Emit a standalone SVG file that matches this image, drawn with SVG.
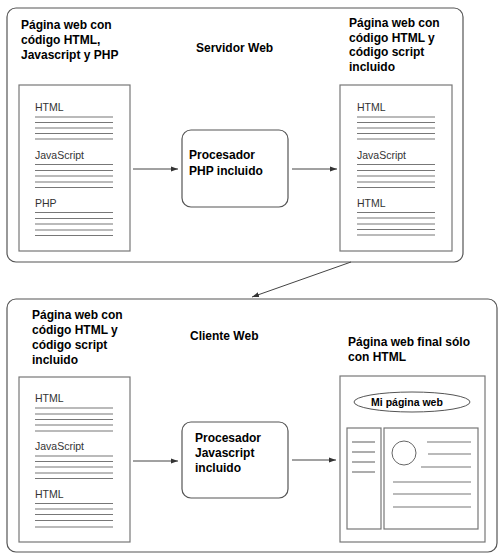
<svg xmlns="http://www.w3.org/2000/svg" width="503" height="557" viewBox="0 0 503 557">
<defs>
<marker id="ah" viewBox="0 0 10 10" refX="10" refY="5" markerWidth="7" markerHeight="7" markerUnits="userSpaceOnUse" orient="auto">
<path d="M0,1.5 L10,5 L0,8.5 z" fill="#333"/>
</marker>
<style>
.outer{fill:#fff;stroke:#555;stroke-width:1.2}
.doc{fill:#fff;stroke:#777;stroke-width:1.2}
.proc{fill:#fff;stroke:#555;stroke-width:1.2}
.ln{stroke:#777;stroke-width:1.2}
.lbl{font-family:"Liberation Sans",Arial,sans-serif;font-weight:bold;font-size:12px;fill:#000}
.dl{font-family:"Liberation Sans",Arial,sans-serif;font-size:10.5px;fill:#333}
.conn{stroke:#444;stroke-width:1;fill:none;marker-end:url(#ah)}
</style>
</defs>
<rect width="503" height="557" fill="#fff"/>

<g id="servidor">
<rect class="outer" x="7" y="8" width="456" height="254" rx="9"/>
<text class="lbl" x="196" y="52">Servidor Web</text>
</g>
<g id="cliente">
<rect class="outer" x="7" y="299" width="490" height="253" rx="9"/>
<text class="lbl" x="190" y="340">Cliente Web</text>
</g>

<g id="doc1">
<text class="lbl" x="21" y="29">Página web con</text>
<text class="lbl" x="21" y="44">código HTML,</text>
<text class="lbl" x="21" y="59">Javascript y PHP</text>
<rect class="doc" x="19" y="85" width="111" height="166"/>
<text class="dl" x="35" y="111">HTML</text>
<g class="ln"><line x1="35" y1="117" x2="113" y2="117"/><line x1="35" y1="122.5" x2="113" y2="122.5"/><line x1="35" y1="128" x2="113" y2="128"/><line x1="35" y1="133.5" x2="113" y2="133.5"/><line x1="35" y1="139" x2="113" y2="139"/></g>
<text class="dl" x="35" y="159">JavaScript</text>
<g class="ln"><line x1="35" y1="164.5" x2="113" y2="164.5"/><line x1="35" y1="170.5" x2="113" y2="170.5"/><line x1="35" y1="176" x2="113" y2="176"/><line x1="35" y1="182" x2="113" y2="182"/><line x1="35" y1="187.5" x2="113" y2="187.5"/></g>
<text class="dl" x="35" y="207">PHP</text>
<g class="ln"><line x1="35" y1="212.5" x2="113" y2="212.5"/><line x1="35" y1="218.5" x2="113" y2="218.5"/><line x1="35" y1="224" x2="113" y2="224"/><line x1="35" y1="230" x2="113" y2="230"/><line x1="35" y1="235.5" x2="113" y2="235.5"/></g>
</g>

<g id="proc1">
<rect class="proc" x="182" y="130" width="106" height="77" rx="9"/>
<text class="lbl" x="189" y="159">Procesador</text>
<text class="lbl" x="189" y="175">PHP incluido</text>
</g>

<g id="doc2">
<text class="lbl" x="349" y="27">Página web con</text>
<text class="lbl" x="349" y="41.5">código HTML y</text>
<text class="lbl" x="349" y="56">código script</text>
<text class="lbl" x="349" y="70.5">incluido</text>
<rect class="doc" x="340" y="85" width="112" height="166"/>
<text class="dl" x="357" y="111">HTML</text>
<g class="ln"><line x1="357" y1="117" x2="435" y2="117"/><line x1="357" y1="122.5" x2="435" y2="122.5"/><line x1="357" y1="128" x2="435" y2="128"/><line x1="357" y1="133.5" x2="435" y2="133.5"/><line x1="357" y1="139" x2="435" y2="139"/></g>
<text class="dl" x="357" y="159">JavaScript</text>
<g class="ln"><line x1="357" y1="164.5" x2="435" y2="164.5"/><line x1="357" y1="170.5" x2="435" y2="170.5"/><line x1="357" y1="176" x2="435" y2="176"/><line x1="357" y1="182" x2="435" y2="182"/><line x1="357" y1="187.5" x2="435" y2="187.5"/></g>
<text class="dl" x="357" y="207">HTML</text>
<g class="ln"><line x1="357" y1="212.5" x2="435" y2="212.5"/><line x1="357" y1="218" x2="435" y2="218"/><line x1="357" y1="224" x2="435" y2="224"/><line x1="357" y1="229.5" x2="435" y2="229.5"/><line x1="357" y1="235" x2="435" y2="235"/></g>
</g>

<g id="doc3">
<text class="lbl" x="32" y="319">Página web con</text>
<text class="lbl" x="32" y="334">código HTML y</text>
<text class="lbl" x="32" y="349">código script</text>
<text class="lbl" x="32" y="364">incluido</text>
<rect class="doc" x="19" y="377" width="111" height="165"/>
<text class="dl" x="35" y="402">HTML</text>
<g class="ln"><line x1="35" y1="408" x2="113" y2="408"/><line x1="35" y1="414" x2="113" y2="414"/><line x1="35" y1="419.5" x2="113" y2="419.5"/><line x1="35" y1="425" x2="113" y2="425"/><line x1="35" y1="431" x2="113" y2="431"/></g>
<text class="dl" x="35" y="450">JavaScript</text>
<g class="ln"><line x1="35" y1="456" x2="113" y2="456"/><line x1="35" y1="461.5" x2="113" y2="461.5"/><line x1="35" y1="467" x2="113" y2="467"/><line x1="35" y1="473" x2="113" y2="473"/><line x1="35" y1="478.5" x2="113" y2="478.5"/></g>
<text class="dl" x="35" y="498">HTML</text>
<g class="ln"><line x1="35" y1="503.5" x2="113" y2="503.5"/><line x1="35" y1="509" x2="113" y2="509"/><line x1="35" y1="514.5" x2="113" y2="514.5"/><line x1="35" y1="520.5" x2="113" y2="520.5"/><line x1="35" y1="527" x2="113" y2="527"/></g>
</g>

<g id="proc2">
<rect class="proc" x="182" y="422" width="106" height="76" rx="9"/>
<text class="lbl" x="195" y="442">Procesador</text>
<text class="lbl" x="195" y="457">Javascript</text>
<text class="lbl" x="195" y="472">incluido</text>
</g>

<g id="final">
<text class="lbl" x="348" y="346">Página web final sólo</text>
<text class="lbl" x="348" y="361">con HTML</text>
<rect class="doc" x="340" y="376" width="145" height="166"/>
<ellipse cx="412" cy="402" rx="58" ry="10" fill="#fff" stroke="#555" stroke-width="1"/>
<text x="407" y="405.5" text-anchor="middle" font-family="'Liberation Sans',Arial,sans-serif" font-weight="bold" font-size="10.5" fill="#000">Mi página web</text>
<rect class="doc" x="347" y="428" width="34" height="101"/>
<g class="ln"><line x1="352" y1="442" x2="375" y2="442"/><line x1="352" y1="452" x2="375" y2="452"/><line x1="352" y1="462" x2="375" y2="462"/><line x1="352" y1="472" x2="375" y2="472"/></g>
<rect class="doc" x="384" y="428" width="94" height="101"/>
<circle cx="404" cy="453" r="12" fill="#fff" stroke="#666" stroke-width="1"/>
<g class="ln"><line x1="427" y1="442" x2="471" y2="442"/><line x1="428" y1="454" x2="471" y2="454"/><line x1="421" y1="467" x2="471" y2="467"/><line x1="393" y1="482" x2="471" y2="482"/><line x1="393" y1="494" x2="471" y2="494"/><line x1="393" y1="507" x2="471" y2="507"/></g>
</g>

<g id="connectors">
<line class="conn" x1="133" y1="169" x2="178" y2="169"/>
<line class="conn" x1="292" y1="169" x2="337" y2="169"/>
<line class="conn" x1="351" y1="262" x2="252" y2="297"/>
<line class="conn" x1="133" y1="461" x2="178" y2="461"/>
<line class="conn" x1="292" y1="460" x2="336" y2="460"/>
</g>
</svg>
